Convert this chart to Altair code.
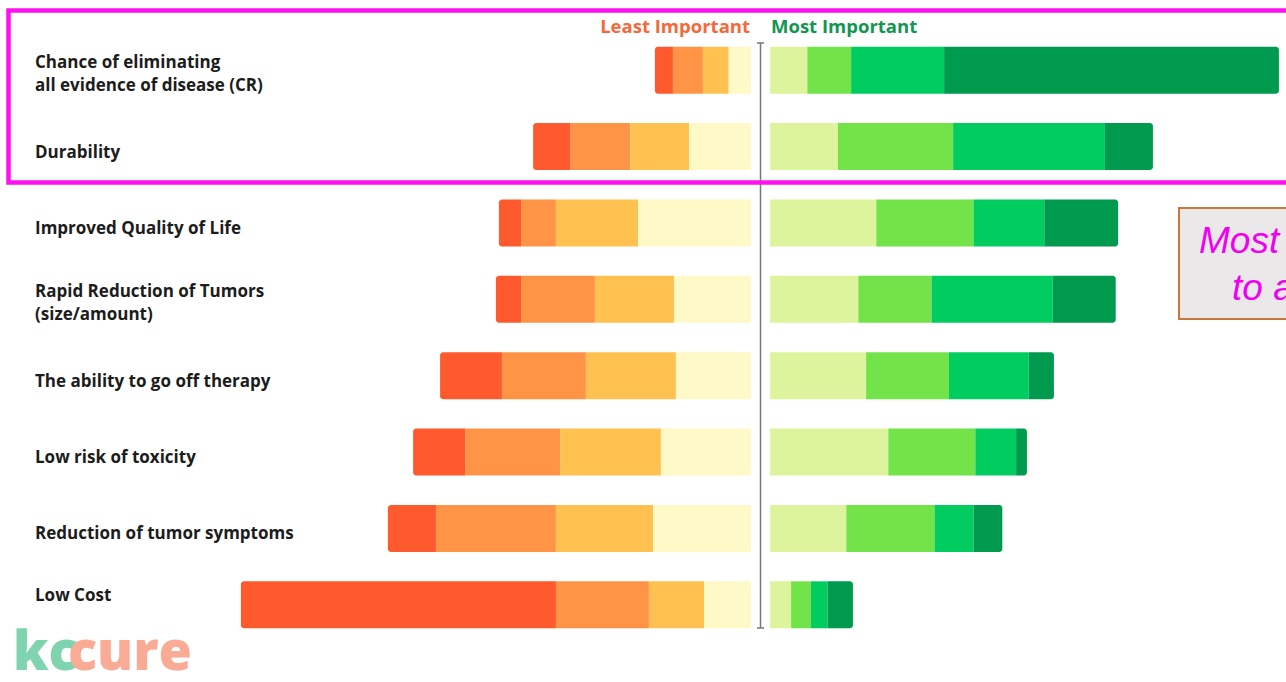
import altair as alt
import pandas as pd

# Attributes, top to bottom
items = [
    "Chance of eliminating\nall evidence of disease (CR)",
    "Durability",
    "Improved Quality of Life",
    "Rapid Reduction of Tumors\n(size/amount)",
    "The ability to go off therapy",
    "Low risk of toxicity",
    "Reduction of tumor symptoms",
    "Low Cost",
]

# Rank 8 = least important ... rank 1 = most important
ranks = ["8", "7", "6", "5", "4", "3", "2", "1"]
rank_colors = ["#ff5a2d", "#ff9446", "#ffc251", "#fff9c8",
               "#ddf49d", "#73e34a", "#00cc5f", "#009a4e"]

# Share of respondents (%) giving each rank to each attribute
rank8 = [3.0, 6.2, 3.7, 4.2, 10.3, 8.7, 8.0, 52.5]
rank7 = [5.0, 10.0, 5.8, 12.3, 14.0, 15.8, 20.0, 15.5]
rank6 = [4.3, 9.8, 13.7, 13.2, 15.0, 16.8, 16.2, 9.2]
rank5 = [3.7, 10.3, 18.8, 12.8, 12.5, 15.0, 16.3, 7.8]
rank4 = [6.2, 11.3, 17.7, 14.7, 16.0, 19.7, 12.7, 3.5]
rank3 = [7.3, 19.2, 16.2, 12.2, 13.8, 14.5, 14.7, 3.3]
rank2 = [15.5, 25.3, 11.8, 20.2, 13.3, 6.8, 6.5, 2.8]
rank1 = [55.8, 8.0, 12.3, 10.5, 4.2, 1.8, 4.8, 4.2]

shares = {"8": rank8, "7": rank7, "6": rank6, "5": rank5,
          "4": rank4, "3": rank3, "2": rank2, "1": rank1}

records = []
for i, item in enumerate(items):
    for r in ranks:
        k = int(r)
        side = "least" if k >= 5 else "most"
        dist = k - 5 if side == "least" else 4 - k
        records.append({"item": item, "rank": r, "share": shares[r][i],
                        "side": side, "dist": dist})
df = pd.DataFrame(records)

W, H, TOP, BOTTOM = 1286, 611, 32, 39
HALF_GAP = 1.6
x_scale = alt.Scale(domain=[-126.75, 87.58], nice=False, zero=False)
y_scale = alt.Scale(paddingInner=0.385, paddingOuter=0.1925)
color_scale = alt.Scale(domain=ranks, range=rank_colors)

base = (
    alt.Chart(df)
    .transform_stack(stack="share", groupby=["item", "side"], as_=["s0", "s1"],
                     sort=[alt.SortField("dist", order="ascending")])
    .transform_calculate(
        xa=f"datum.side == 'least' ? -(datum.s0 + {HALF_GAP}) : datum.s0 + {HALF_GAP}",
        xb=f"datum.side == 'least' ? -(datum.s1 + {HALF_GAP}) : datum.s1 + {HALF_GAP}",
    )
)
enc = dict(
    x=alt.X("xa:Q", scale=x_scale, axis=None),
    x2="xb:Q",
    y=alt.Y("item:N", sort=items, scale=y_scale, axis=None),
    color=alt.Color("rank:N", scale=color_scale, legend=None),
)
bars_inner = base.transform_filter("datum.dist < 3").mark_bar().encode(**enc)
bars_left_end = base.transform_filter("datum.dist == 3 && datum.side == 'least'").mark_bar(
    cornerRadiusTopLeft=3, cornerRadiusBottomLeft=3).encode(**enc)
bars_right_end = base.transform_filter("datum.dist == 3 && datum.side == 'most'").mark_bar(
    cornerRadiusTopRight=3, cornerRadiusBottomRight=3).encode(**enc)

# row labels: two-line labels, the last row, and the remaining rows
label_src = alt.Chart(pd.DataFrame({"item": items}))
label_style = dict(align="left", baseline="middle", lineBreak="\n", lineHeight=23,
                   font="Open Sans", fontSize=17, fontWeight=700, color="#1c1c1c")
label_enc = dict(x=alt.value(35),
                 y=alt.Y("item:N", sort=items, scale=y_scale, axis=None),
                 text="item:N")
is_multi = "indexof(datum.item, '\\n') >= 0"
is_last = f"datum.item == '{items[-1]}'"
labels_multi = label_src.transform_filter(is_multi).mark_text(dy=-7, **label_style).encode(**label_enc)
labels_last = label_src.transform_filter(is_last).mark_text(dy=-9, **label_style).encode(**label_enc)
labels_single = label_src.transform_filter(f"!({is_multi}) && !({is_last})").mark_text(
    dy=6, **label_style).encode(**label_enc)

# centre divider with small end caps
one = pd.DataFrame({"k": [0]})
divider = alt.Chart(one).mark_rule(color="#777777", strokeWidth=1.5).encode(
    x=alt.datum(0), y=alt.value(43 - TOP), y2=alt.value(628 - TOP))
cap_top = alt.Chart(one).mark_rule(color="#777777", strokeWidth=1.5).encode(
    x=alt.value(757), x2=alt.value(764), y=alt.value(43 - TOP))
cap_bot = alt.Chart(one).mark_rule(color="#777777", strokeWidth=1.5).encode(
    x=alt.value(757), x2=alt.value(764), y=alt.value(628 - TOP))

head_least = alt.Chart(pd.DataFrame({"t": ["Least Important"]})).mark_text(
    align="right", baseline="middle", font="Open Sans", fontSize=18.5, fontWeight=700,
    color="#f4693b").encode(x=alt.value(750), y=alt.value(27 - TOP), text="t:N")
head_most = alt.Chart(pd.DataFrame({"t": ["Most Important"]})).mark_text(
    align="left", baseline="middle", font="Open Sans", fontSize=18.5, fontWeight=700,
    color="#13964f").encode(x=alt.value(771), y=alt.value(27 - TOP), text="t:N")

# highlight frame around the two leading attributes
frame = alt.Chart(one).mark_rect(fill=None, stroke="#ff10f0", strokeWidth=4.5).encode(
    x=alt.value(8.5), x2=alt.value(1300), y=alt.value(10.5 - TOP), y2=alt.value(182.5 - TOP))

# call-out box at the right edge
callout = alt.Chart(one).mark_rect(fill="#ebe8ea", stroke="#c8763a", strokeWidth=2).encode(
    x=alt.value(1179), x2=alt.value(1310), y=alt.value(208 - TOP), y2=alt.value(319 - TOP))
callout_l1 = alt.Chart(pd.DataFrame({"t": ["Most"]})).mark_text(
    align="left", baseline="alphabetic", font="Liberation Sans", fontSize=37,
    fontStyle="italic", color="#f000f0").encode(
    x=alt.value(1199), y=alt.value(253 - TOP), text="t:N")
callout_l2 = alt.Chart(pd.DataFrame({"t": ["to a"]})).mark_text(
    align="left", baseline="alphabetic", font="Liberation Sans", fontSize=37,
    fontStyle="italic", color="#f000f0").encode(
    x=alt.value(1232), y=alt.value(300 - TOP), text="t:N")

# kccure wordmark
logo_kc = alt.Chart(pd.DataFrame({"t": ["kc"]})).mark_text(
    align="left", baseline="alphabetic", font="Open Sans", fontSize=54, fontWeight=800,
    color="#7fd4af").encode(x=alt.value(13), y=alt.value(670 - TOP), text="t:N")
logo_cure = alt.Chart(pd.DataFrame({"t": ["cure"]})).mark_text(
    align="left", baseline="alphabetic", font="Open Sans", fontSize=54, fontWeight=800,
    color="#f9ab95").encode(x=alt.value(68), y=alt.value(670 - TOP), text="t:N")

chart = alt.layer(
    bars_inner, bars_left_end, bars_right_end, labels_multi, labels_last, labels_single,
    divider, cap_top, cap_bot, head_least, head_most, frame, callout, callout_l1,
    callout_l2, logo_kc, logo_cure,
).properties(
    width=W, height=H, autosize="none",
    padding={"left": 0, "right": 0, "top": TOP, "bottom": BOTTOM},
    background="white",
).configure_view(stroke=None)

chart.save("out.html", embed_options={"renderer": "svg", "actions": False})
